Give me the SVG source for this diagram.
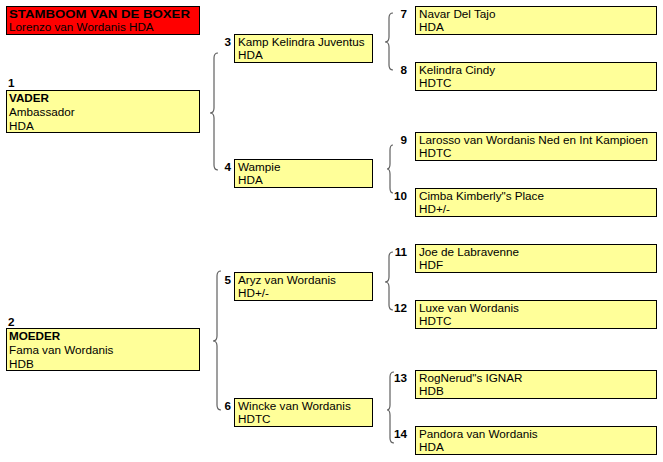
<svg xmlns="http://www.w3.org/2000/svg" width="663" height="462" viewBox="0 0 663 462">
<style>
text{font-family:"Liberation Sans",Arial,sans-serif;font-size:11.7px;fill:#000}
.b{font-weight:bold}
.n{font-weight:bold;text-anchor:end}
.box{fill:#ffff99;stroke:#000;stroke-width:1}
.title{fill:#ff0000;stroke:#000;stroke-width:1}
.br{fill:none;stroke:#606060;stroke-width:1.2}
</style>
<rect width="663" height="462" fill="#fff"/>
<g id="title">
<rect class="title" x="6.5" y="6.5" width="193" height="28"/>
<text class="b" x="9" y="18" textLength="181" lengthAdjust="spacingAndGlyphs">STAMBOOM VAN DE BOXER</text>
<text x="9" y="31">Lorenzo van Wordanis HDA</text>
</g>
<g id="connectors">
<path class="br" d="M218,53 Q214,53 214,58 L214,108 Q214,113 210,113 Q214,113 214,118 L214,165 Q214,170 218,170"/>
<path class="br" d="M221,271 Q217,271 217,276 L217,336 Q217,341 213,341 Q217,341 217,346 L217,405 Q217,410 221,410"/>
<path class="br" d="M393,13 Q389,13 389,18 L389,37 Q389,42 385,42 Q389,42 389,47 L389,65 Q389,70 393,70"/>
<path class="br" d="M393,145 Q390,145 390,150 L390,164 Q390,169 387,169 Q390,169 390,174 L390,188 Q390,193 393,193"/>
<path class="br" d="M393,252 Q389,252 389,257 L389,277 Q389,282 385,282 Q389,282 389,287 L389,305 Q389,310 393,310"/>
<path class="br" d="M394,372 Q390,372 390,377 L390,405 Q390,410 387,410 Q390,410 390,415 L390,438 Q390,443 394,443"/>
</g>
<g id="n1">
<text class="b" x="8" y="87">1</text>
<rect class="box" x="6.5" y="90.5" width="193" height="42"/>
<text class="b" x="9" y="102">VADER</text>
<text x="9" y="116">Ambassador</text>
<text x="9" y="130">HDA</text>
</g>
<g id="n2">
<text class="b" x="8" y="326">2</text>
<rect class="box" x="6.5" y="328.5" width="193" height="42"/>
<text class="b" x="9" y="340">MOEDER</text>
<text x="9" y="354">Fama van Wordanis</text>
<text x="9" y="368">HDB</text>
</g>
<g id="n3">
<text class="n" x="231" y="46">3</text>
<rect class="box" x="234.5" y="34.5" width="138" height="28"/>
<text x="238" y="46">Kamp Kelindra Juventus</text>
<text x="238" y="59">HDA</text>
</g>
<g id="n4">
<text class="n" x="231" y="171">4</text>
<rect class="box" x="234.5" y="159.5" width="138" height="28"/>
<text x="238" y="171">Wampie</text>
<text x="238" y="184">HDA</text>
</g>
<g id="n5">
<text class="n" x="231" y="284">5</text>
<rect class="box" x="234.5" y="272.5" width="138" height="28"/>
<text x="238" y="284">Aryz van Wordanis</text>
<text x="238" y="297">HD+/-</text>
</g>
<g id="n6">
<text class="n" x="231" y="410">6</text>
<rect class="box" x="234.5" y="398.5" width="138" height="28"/>
<text x="238" y="410">Wincke van Wordanis</text>
<text x="238" y="423">HDTC</text>
</g>
<g id="n7">
<text class="n" x="407" y="18">7</text>
<rect class="box" x="415.5" y="6.5" width="241" height="28"/>
<text x="419" y="18">Navar Del Tajo</text>
<text x="419" y="31">HDA</text>
</g>
<g id="n8">
<text class="n" x="407" y="74">8</text>
<rect class="box" x="415.5" y="62.5" width="241" height="28"/>
<text x="419" y="74">Kelindra Cindy</text>
<text x="419" y="87">HDTC</text>
</g>
<g id="n9">
<text class="n" x="407" y="144">9</text>
<rect class="box" x="415.5" y="132.5" width="241" height="28"/>
<text x="419" y="144">Larosso van Wordanis Ned en Int Kampioen</text>
<text x="419" y="157">HDTC</text>
</g>
<g id="n10">
<text class="n" x="407" y="200">10</text>
<rect class="box" x="415.5" y="188.5" width="241" height="28"/>
<text x="419" y="200">Cimba Kimberly"s Place</text>
<text x="419" y="213">HD+/-</text>
</g>
<g id="n11">
<text class="n" x="407" y="256">11</text>
<rect class="box" x="415.5" y="244.5" width="241" height="28"/>
<text x="419" y="256">Joe de Labravenne</text>
<text x="419" y="269">HDF</text>
</g>
<g id="n12">
<text class="n" x="407" y="312">12</text>
<rect class="box" x="415.5" y="300.5" width="241" height="28"/>
<text x="419" y="312">Luxe van Wordanis</text>
<text x="419" y="325">HDTC</text>
</g>
<g id="n13">
<text class="n" x="407" y="382">13</text>
<rect class="box" x="415.5" y="370.5" width="241" height="28"/>
<text x="419" y="382">RogNerud"s IGNAR</text>
<text x="419" y="395">HDB</text>
</g>
<g id="n14">
<text class="n" x="407" y="438">14</text>
<rect class="box" x="415.5" y="426.5" width="241" height="28"/>
<text x="419" y="438">Pandora van Wordanis</text>
<text x="419" y="451">HDA</text>
</g>
</svg>
